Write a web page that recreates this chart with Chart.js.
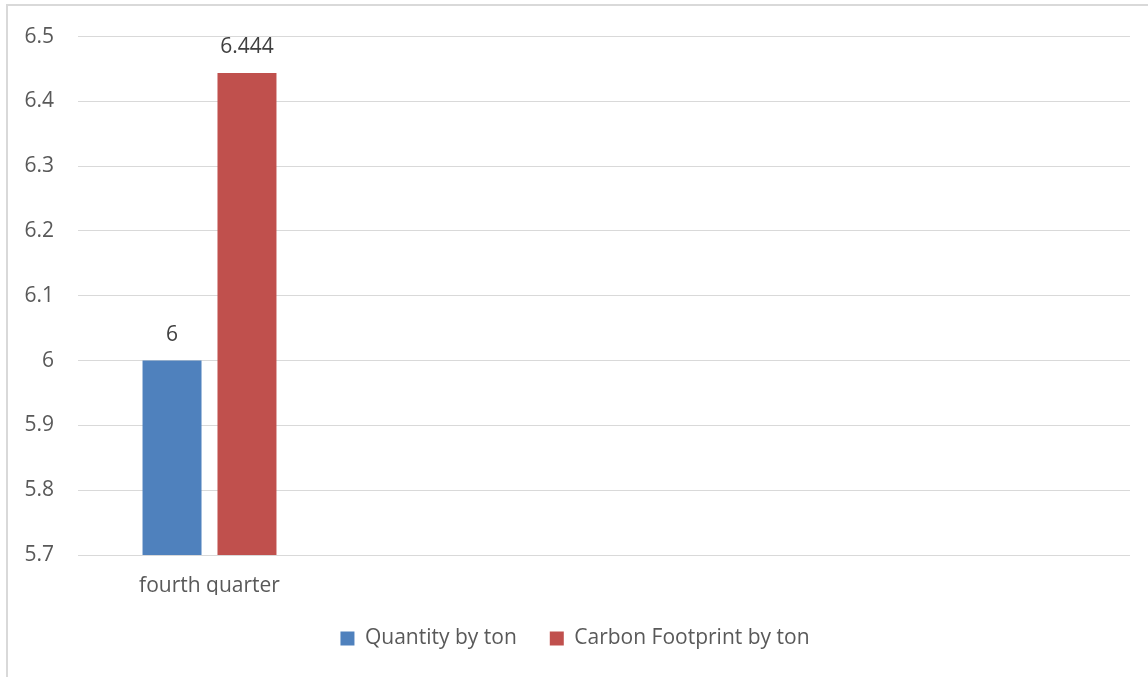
<!DOCTYPE html>
<html>
<head>
  <title>Quantity and Carbon Footprint</title>
  <style>
    html, body {
      margin: 0;
      padding: 0;
      background: #ffffff;
    }
    #chart-box {
      position: relative;
      width: 1148px;
      height: 677px;
    }
  </style>
  <script src="https://cdn.jsdelivr.net/npm/chart.js"></script>
</head>
<body>
  <div id="chart-box"><canvas id="chart"></canvas></div>

  <script>
    // data
    const categories = ['fourth quarter', '', '', ''];
    const quantityByTon = [6, null, null, null];
    const carbonByTon = [6.444, null, null, null];
    const seriesNames = ['Quantity by ton', 'Carbon Footprint by ton'];

    const axisMin = 5.7;
    const axisMax = 6.5;
    const axisStep = 0.1;

    const textColor = '#595959';
    const gridColor = '#d9d9d9';
    const fontFamily = '"Open Sans", Lato, "Liberation Sans", sans-serif';
    const fontSize = 21;

    // outer frame like the one round the original chart
    const framePlugin = {
      id: 'frame',
      beforeDraw(chart) {
        const ctx = chart.ctx;
        ctx.save();
        ctx.strokeStyle = gridColor;
        ctx.lineWidth = 2;
        ctx.beginPath();
        ctx.moveTo(7, chart.height);
        ctx.lineTo(7, 5);
        ctx.lineTo(chart.width, 5);
        ctx.stroke();
        ctx.restore();
      }
    };

    // value labels above each bar
    const valueLabels = {
      id: 'valueLabels',
      afterDatasetsDraw(chart) {
        const ctx = chart.ctx;
        ctx.save();
        ctx.font = fontSize + 'px ' + fontFamily;
        ctx.fillStyle = '#404040';
        ctx.textAlign = 'center';
        ctx.textBaseline = 'middle';
        chart.data.datasets.forEach(function (ds, i) {
          const meta = chart.getDatasetMeta(i);
          meta.data.forEach(function (bar, j) {
            const v = ds.data[j];
            if (v === null || v === undefined) return;
            ctx.fillText(String(v), bar.x, bar.y - 26);
          });
        });
        ctx.restore();
      }
    };

    const ctx = document.getElementById('chart').getContext('2d');
    new Chart(ctx, {
      type: 'bar',
      data: {
        labels: categories,
        datasets: [
          {
            label: seriesNames[0],
            data: quantityByTon,
            backgroundColor: '#4f81bd',
            categoryPercentage: 0.57,
            barPercentage: 0.787
          },
          {
            label: seriesNames[1],
            data: carbonByTon,
            backgroundColor: '#c0504d',
            categoryPercentage: 0.57,
            barPercentage: 0.787
          }
        ]
      },
      options: {
        responsive: true,
        maintainAspectRatio: false,
        animation: false,
        layout: {
          padding: { left: 20, right: 18, top: 35, bottom: 18 }
        },
        plugins: {
          tooltip: { enabled: false },
          legend: {
            position: 'bottom',
            labels: {
              color: textColor,
              font: { family: fontFamily, size: fontSize },
              boxWidth: 14,
              boxHeight: 14,
              padding: 33
            }
          }
        },
        scales: {
          x: {
            grid: { display: false, drawTicks: false },
            border: { display: false },
            ticks: {
              color: textColor,
              font: { family: fontFamily, size: fontSize },
              padding: 18,
              maxRotation: 0,
              autoSkip: false
            },
            afterFit(scale) {
              scale.height = 40;
            }
          },
          y: {
            min: axisMin,
            max: axisMax,
            grid: { color: gridColor, lineWidth: 1, drawTicks: false },
            border: { display: false },
            ticks: {
              stepSize: axisStep,
              color: textColor,
              font: { family: fontFamily, size: fontSize },
              padding: 24,
              callback: function (v) {
                return String(Number(v.toFixed(1)));
              }
            },
            afterFit(scale) {
              scale.width = 58;
            }
          }
        }
      },
      plugins: [framePlugin, valueLabels]
    });
  </script>
</body>
</html>
